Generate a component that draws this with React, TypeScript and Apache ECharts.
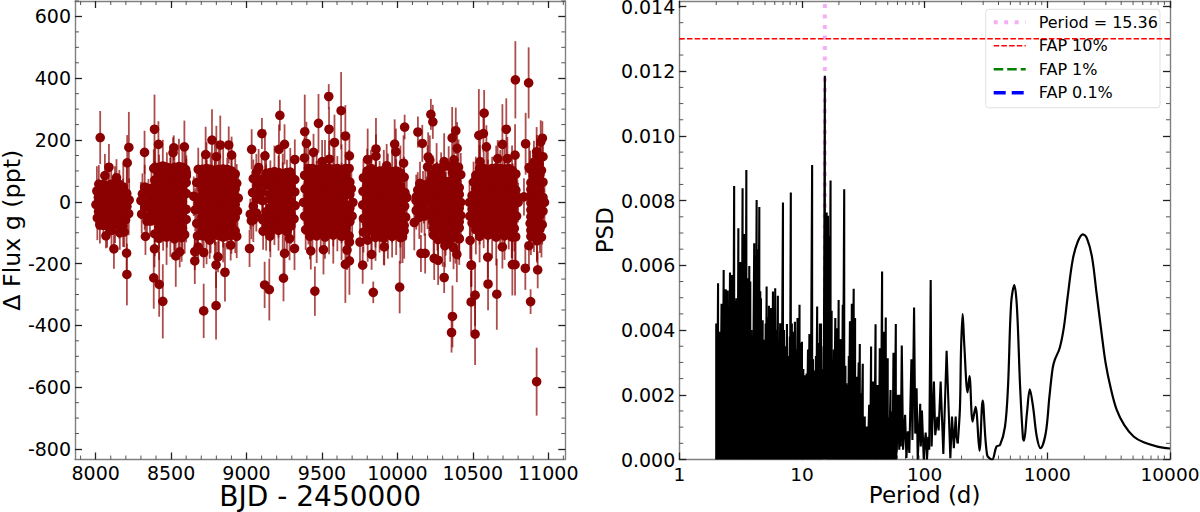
import React, { useEffect, useRef } from 'react';
import * as echarts from 'echarts';

const FONT = '"DejaVu Sans"';

// light curve, each point is [BJD - 2450000, delta flux, error], read per observing season
const season1 = [
  [8021,57,62],[8072,52,70],[8128,60,55],[8183,48,75],[8008,35,80],[8049,30,58],[8103,38,66],[8157,31,72],[8206,27,85],
  [8018,14,60],[8077,9,52],[8126,15,78],[8181,11,64],[8222,6,70],[8002,-9,68],[8046,-12,74],[8098,-7,56],[8153,-10,60],
  [8207,-15,62],[8019,-31,58],[8074,-35,66],[8133,-28,50],[8178,-33,80],[8219,-38,70],[8011,-52,72],[8051,-56,48],
  [8102,-50,58],[8157,-55,64],[8198,-58,54],[8028,-75,60],[8076,-78,70],[8129,-72,62],[8182,-80,66],
  [8030,208,86],[8220,176,115],[8209,126,90],[8088,112,75],[8061,85,70],[8138,78,60],[8068,-110,40],[8121,-152,65],
  [8205,-166,60],[8207,-235,100],[8189,-97,50],[8160,-100,55],[8105,-92,60],
];
const season2 = [
  [8395,112,70],[8445,116,85],[8497,108,60],[8552,114,90],[8596,105,75],[8420,92,60],[8472,88,72],[8522,95,66],[8575,90,80],[8601,84,55],
  [8392,70,62],[8447,66,50],[8495,73,70],[8550,68,58],[8600,62,64],[8325,48,72],[8370,44,60],[8420,50,55],[8470,46,66],[8524,42,78],[8575,50,58],
  [8310,26,66],[8392,22,70],[8445,28,52],[8497,24,60],[8552,20,74],[8600,27,56],[8300,4,60],[8350,0,74],[8420,7,62],[8470,2,50],[8522,5,68],[8575,-1,58],
  [8325,-18,72],[8392,-22,58],[8447,-15,64],[8495,-20,80],[8550,-16,52],[8600,-24,70],[8305,-40,62],[8360,-44,68],[8420,-38,56],[8470,-42,70],[8524,-37,60],[8575,-45,76],
  [8340,-62,60],[8392,-58,72],[8445,-65,55],[8497,-60,66],[8552,-63,50],[8600,-57,74],[8420,-84,68],[8472,-88,60],[8522,-80,78],[8575,-86,64],
  [8392,-104,72],[8447,-100,58],[8495,-108,70],[8550,-102,84],[8590,-106,62],[8420,-118,70],[8470,-114,90],[8522,-120,66],[8570,-116,78],
  [8324,160,70],[8390,235,112],[8416,186,75],[8518,175,40],[8513,159,50],[8588,178,85],[8385,108,62],[8601,94,56],
  [8330,-112,60],[8390,-152,60],[8557,-162,50],[8531,-175,100],[8385,-246,100],[8421,-267,105],[8445,-322,120],
];
const season3 = [
  [8680,105,70],[8735,108,85],[8790,102,96],[8845,106,74],[8900,100,68],[8707,84,60],[8762,88,72],[8817,80,90],[8872,85,58],[8925,90,66],
  [8670,62,56],[8735,66,70],[8790,60,80],[8845,58,64],[8900,65,52],[8935,60,62],[8707,40,72],[8762,36,58],[8817,44,66],[8872,38,70],[8925,42,56],
  [8650,18,64],[8735,14,50],[8790,20,76],[8845,16,60],[8900,22,58],[8945,12,70],[8680,-4,60],[8707,-8,66],[8762,0,54],[8817,-6,72],[8872,-2,62],[8925,-9,68],
  [8660,-26,70],[8735,-30,56],[8790,-22,60],[8845,-28,74],[8900,-24,54],[8940,-30,64],[8707,-48,62],[8762,-44,76],[8817,-52,58],[8872,-46,68],[8925,-50,60],
  [8670,-70,72],[8735,-66,54],[8790,-74,66],[8845,-68,80],[8900,-72,62],[8707,-92,60],[8762,-88,78],[8817,-96,70],[8872,-90,64],[8925,-94,72],
  [8675,-110,66],[8735,-112,90],[8790,-106,74],[8845,-114,82],[8900,-108,60],[8935,-112,70],
  [8729,153,90],[8771,200,100],[8826,184,95],[8882,184,60],[8800,146,100],[8901,151,60],
  [8657,-161,60],[8679,-146,50],[8716,-164,50],[8657,-191,75],[8811,-178,50],[8798,-204,75],[8857,-228,95],[8716,-353,88],[8798,-336,110],[8756,-124,60],[8895,-140,50],
];
const season4 = [
  [9065,95,60],[9130,92,72],[9185,98,84],[9240,90,66],[9290,96,78],[9045,75,62],[9100,72,68],[9158,78,56],[9212,70,80],[9268,76,60],[9320,72,72],
  [9070,52,56],[9130,55,66],[9185,48,60],[9240,54,74],[9295,50,58],[9040,30,70],[9158,26,64],[9212,33,54],[9268,28,66],[9320,32,60],
  [9065,8,62],[9105,4,58],[9185,10,70],[9240,6,52],[9295,2,64],[9045,-14,66],[9158,-18,60],[9212,-10,72],[9268,-16,56],[9322,-12,62],
  [9065,-36,60],[9130,-32,68],[9185,-40,54],[9240,-34,70],[9295,-38,58],[9045,-58,72],[9105,-54,56],[9158,-62,66],[9212,-56,60],[9268,-60,74],[9315,-55,62],
  [9130,-80,78],[9185,-76,64],[9240,-84,70],[9295,-78,58],[9110,-95,60],[9158,-98,82],[9212,-92,66],[9268,-96,74],
  [9034,170,65],[9102,221,50],[9221,280,50],[9252,186,65],[9215,170,80],[9122,149,85],[9320,137,65],[9080,111,60],
  [9025,-40,50],[9032,-61,60],[9020,-151,60],[9252,-167,70],[9245,-247,75],[9120,-269,75],[9151,-284,100],[9318,-151,70],[9155,-111,50],[9109,-59,50],[9285,-119,70],
];
const season5 = [
  [9410,108,80],[9465,104,66],[9520,110,90],[9575,106,72],[9630,102,84],[9680,108,60],[9385,86,62],[9437,90,70],[9492,82,58],[9547,88,76],[9602,84,64],[9657,90,72],
  [9410,64,58],[9465,60,72],[9520,66,60],[9575,62,54],[9630,58,68],[9685,64,56],[9388,42,66],[9437,38,60],[9492,46,70],[9547,40,56],[9602,44,62],[9657,36,74],[9695,42,60],
  [9410,20,54],[9465,24,66],[9520,16,60],[9575,22,72],[9630,18,58],[9685,24,64],[9378,-2,62],[9437,-6,56],[9492,2,68],[9547,-4,74],[9602,0,52],[9657,-8,60],[9705,-2,70],
  [9410,-24,64],[9465,-20,58],[9520,-28,70],[9575,-22,62],[9630,-26,56],[9685,-20,68],[9385,-46,60],[9437,-42,72],[9492,-50,54],[9547,-44,66],[9602,-48,60],[9657,-42,76],[9700,-46,58],
  [9410,-68,70],[9465,-64,62],[9520,-72,56],[9575,-66,78],[9630,-70,64],[9685,-64,60],[9392,-90,66],[9437,-86,74],[9492,-94,60],[9547,-88,82],[9602,-92,68],[9657,-86,72],
  [9420,-112,74],[9465,-110,88],[9520,-114,70],[9575,-108,92],[9630,-112,76],[9680,-110,84],
  [9386,227,120],[9397,189,70],[9444,160,60],[9384,142,65],[9477,254,95],[9545,341,40],[9547,235,70],[9627,295,125],[9583,192,90],[9655,213,100],[9682,149,70],[9549,138,60],[9501,130,70],
  [9426,-159,60],[9510,-155,80],[9453,-289,80],[9682,-130,60],[9666,-156,65],[9655,-202,125],[9682,-191,110],
];
const season6 = [
  [9800,100,72],[9855,96,84],[9910,102,66],[9965,98,78],[10020,94,88],[9775,78,60],[9828,82,70],[9882,74,58],[9937,80,76],[9992,76,62],[10045,80,66],
  [9800,56,58],[9855,52,70],[9910,58,62],[9965,54,54],[10020,50,68],[9772,34,64],[9828,30,56],[9882,38,72],[9937,32,60],[9992,36,66],[10050,30,58],
  [9800,12,60],[9855,16,54],[9910,8,68],[9965,14,72],[10020,10,56],[10062,14,64],[9770,-10,66],[9828,-14,60],[9882,-6,52],[9937,-12,70],[9992,-8,62],[10048,-14,58],
  [9800,-32,62],[9855,-28,70],[9910,-36,56],[9965,-30,64],[10020,-34,60],[9775,-54,68],[9828,-50,54],[9882,-58,72],[9937,-52,60],[9992,-56,66],[10055,-50,74],
  [9800,-76,60],[9855,-72,76],[9910,-80,64],[9965,-74,58],[10020,-78,70],[9775,-98,66],[9828,-94,80],[9882,-102,62],[9937,-96,88],[9992,-100,72],[10045,-94,90],
  [9855,-115,76],[9910,-118,86],[9965,-112,68],[10020,-116,84],
  [10048,242,40],[9858,171,100],[9858,148,70],[9982,187,80],[9803,137,100],[10041,125,90],[9990,162,75],[9929,117,70],[9825,108,60],
  [9752,-130,80],[9803,-124,70],[9829,-170,50],[9770,-205,60],[9913,-146,60],[10034,-113,85],[9840,-293,35],[10015,-276,85],
];
const season7 = [
  [10150,60,70],[10185,55,62],[10135,38,58],[10170,34,66],[10205,40,60],[10125,16,72],[10160,12,54],[10195,18,64],[10140,-6,60],[10175,-2,68],
  [10125,-28,62],[10160,-24,76],[10200,-30,58],[10145,-50,70],[10180,-46,64],
  [10215,135,80],[10310,130,92],[10375,136,84],[10200,113,70],[10260,110,80],[10340,116,64],[10405,112,90],[10235,90,60],[10290,88,72],[10365,94,58],[10420,88,70],
  [10222,68,66],[10262,70,60],[10320,66,72],[10390,72,56],[10250,46,62],[10290,44,70],[10350,50,58],[10410,46,66],[10235,24,60],[10280,26,56],[10320,22,74],[10380,28,62],
  [10215,2,66],[10265,6,52],[10295,0,70],[10350,4,60],[10420,-2,72],[10240,-20,62],[10320,-24,56],[10385,-18,70],[10210,-42,68],[10265,-38,60],[10295,-46,74],[10350,-40,54],[10420,-44,66],
  [10235,-64,60],[10320,-60,76],[10385,-66,62],[10265,-86,72],[10295,-82,64],[10350,-90,58],[10410,-84,78],[10240,-108,82],[10320,-104,70],[10385,-110,90],
  [10270,-122,76],[10300,-118,92],[10350,-124,70],[10410,-120,84],
  [10136,226,50],[10165,189,60],[10222,283,50],[10235,259,55],[10363,207,100],[10387,230,75],[10396,173,85],[10204,145,80],[10112,-67,90],[10123,5,60],
  [10156,-167,60],[10184,-167,65],[10244,-183,70],[10270,-189,80],[10315,-142,70],[10372,-148,70],[10394,-170,90],[10310,-245,50],[10409,-118,70],
  [10365,-371,100],[10359,-423,65],
];
const season8 = [
  [10545,108,76],[10600,104,88],[10655,110,72],[10710,106,94],[10760,102,80],[10520,86,60],[10572,90,72],[10628,82,64],[10682,88,80],[10738,84,70],[10785,90,62],
  [10505,64,66],[10545,60,58],[10600,66,70],[10655,62,56],[10710,58,72],[10765,64,60],[10520,42,62],[10572,38,70],[10628,46,54],[10682,40,66],[10738,44,60],[10785,38,72],
  [10495,20,64],[10545,24,56],[10600,16,68],[10655,22,60],[10710,18,74],[10765,24,54],[10795,16,62],[10478,-2,72],[10520,-6,60],[10572,2,66],[10628,-4,52],[10682,0,70],[10738,-8,58],[10800,-2,64],
  [10495,-24,60],[10545,-20,72],[10600,-28,56],[10655,-22,66],[10710,-26,60],[10765,-20,74],[10480,-46,68],[10520,-42,54],[10572,-50,62],[10628,-44,76],[10682,-48,58],[10738,-42,66],[10790,-46,60],
  [10495,-68,62],[10545,-64,74],[10600,-72,60],[10655,-66,56],[10710,-70,78],[10765,-64,66],[10520,-90,80],[10572,-86,64],[10628,-94,88],[10682,-88,70],[10738,-92,62],[10775,-86,74],
  [10545,-112,84],[10600,-108,72],[10655,-114,92],[10710,-110,78],[10760,-112,70],
  [10575,287,75],[10540,215,150],[10570,221,60],[10722,235,100],[10590,178,70],[10696,186,130],[10548,130,70],[10665,140,60],[10780,151,100],[10729,140,70],
  [10782,395,125],[10482,-125,60],[10489,-205,70],[10696,-146,70],[10758,-113,70],[10784,-113,75],[10762,-203,100],[10780,-203,100],
  [10491,-205,70],[10489,-324,100],[10515,-302,100],[10515,-428,100],[10601,-266,85],[10599,-179,70],[10659,-299,115],
];
const season9 = [
  [10925,150,66],[10950,146,58],[10905,128,70],[10940,124,62],[10880,106,60],[10925,110,76],[10955,102,54],[10900,84,66],[10945,88,58],[10885,62,72],[10925,58,60],[10965,64,56],
  [10905,40,62],[10945,36,70],[10880,18,58],[10925,22,66],[10965,14,60],[10900,-4,72],[10945,-8,54],[10975,-2,62],[10885,-26,60],[10925,-22,68],[10965,-30,56],[10905,-48,66],[10945,-44,60],
  [10880,-70,72],[10925,-66,58],[10960,-74,64],[10905,-92,70],[10945,-88,78],[10885,-112,60],[10925,-108,82],[10955,-114,66],
  [10870,385,115],[10850,188,100],[10961,206,55],[10950,194,70],[10923,162,80],[10965,146,65],[10873,111,70],[10839,16,60],
  [10848,-215,70],[10872,-142,65],[10925,-126,70],[10930,-220,60],[10883,-323,40],[10923,-582,110],
];

// points inside the solid part of each season, whose error bars cannot be seen: [flux, [BJD...]]
const inner1 = [[57,[8047,8100,8155]],[35,[8026,8076,8130,8181]],[12,[8047,8100,8153,8203]],[-10,[8023,8072,8126,8180]],[-31,[8047,8103,8155,8198]],[-54,[8030,8075,8128,8178]],[-76,[8052,8103,8155]]];
const inner2 = [[112,[8420,8471,8524,8574]],[92,[8445,8497,8550]],[70,[8420,8471,8522,8575]],[48,[8395,8445,8497,8550]],[26,[8350,8420,8471,8524,8576]],[4,[8392,8445,8497,8550]],[-18,[8360,8420,8471,8522,8575]],[-40,[8392,8445,8497,8550]],[-62,[8365,8420,8471,8524,8576]],[-84,[8445,8497,8550]],[-104,[8420,8471,8522,8570]]];
const inner3 = [[105,[8707,8762,8817,8872]],[84,[8735,8790,8845,8900]],[62,[8702,8762,8817,8872,8920]],[40,[8735,8790,8845,8900]],[18,[8700,8762,8817,8872,8922]],[-4,[8735,8790,8845,8900]],[-26,[8700,8762,8817,8872,8920]],[-48,[8735,8790,8845,8900]],[-70,[8702,8762,8817,8872]],[-92,[8735,8790,8845,8900]],[-110,[8707,8762,8817,8872]]];
const inner4 = [[95,[9158,9212,9268]],[75,[9130,9185,9240,9295]],[52,[9158,9212,9268]],[30,[9100,9185,9240,9295]],[8,[9158,9212,9268]],[-14,[9185,9240,9295]],[-36,[9158,9212,9268]],[-58,[9130,9185,9240,9295]],[-80,[9158,9212,9268]]];
const inner5 = [[108,[9437,9492,9547,9602,9657]],[86,[9410,9465,9520,9575,9630]],[64,[9437,9492,9547,9602,9657]],[42,[9410,9465,9520,9575,9630]],[20,[9437,9492,9547,9602,9657]],[-2,[9410,9465,9520,9575,9630]],[-24,[9437,9492,9547,9602,9657]],[-46,[9410,9465,9520,9575,9630]],[-68,[9437,9492,9547,9602,9657]],[-90,[9410,9465,9520,9575,9630]]];
const inner6 = [[100,[9828,9882,9937,9992]],[78,[9800,9855,9910,9965,10020]],[56,[9828,9882,9937,9992]],[34,[9800,9855,9910,9965,10020]],[12,[9828,9882,9937,9992]],[-10,[9800,9855,9910,9965,10020]],[-32,[9828,9882,9937,9992]],[-54,[9800,9855,9910,9965,10020]],[-76,[9828,9882,9937,9992,10045]],[-98,[9800,9855,9910,9965,10020]]];
const inner7 = [[113,[10300,10370]],[68,[10290,10355]],[46,[10320,10380]],[38,[10152,10188]],[24,[10300,10350,10410]],[16,[10142,10178]],[2,[10320,10385]],[-20,[10270,10295,10350,10410]],[-28,[10142,10180]],[-42,[10320,10385]],[-64,[10265,10295,10350,10410]],[-86,[10240,10320,10385]],[-108,[10280,10350]]];
const inner8 = [[108,[10572,10628,10682,10738]],[86,[10545,10600,10655,10710,10765]],[64,[10572,10628,10682,10738]],[42,[10545,10600,10655,10710,10765]],[20,[10520,10572,10628,10682,10738]],[-2,[10545,10600,10655,10710,10765]],[-24,[10520,10572,10628,10682,10738]],[-46,[10545,10600,10655,10710,10765]],[-68,[10520,10572,10628,10682,10738]],[-90,[10545,10600,10655,10710,10755]]];
const inner9 = [[128,[10925]],[106,[10903,10940]],[84,[10925]],[62,[10905,10945]],[40,[10885,10925]],[18,[10903,10945]],[-4,[10885,10925]],[-26,[10905,10945]],[-48,[10885,10925]],[-70,[10903,10943]],[-92,[10885,10925]]];

// periodogram: forest of unresolved peaks, each one falls back to zero
const forestPeriods = [
  2.00,2.03,2.07,2.11,2.15,2.21,2.25,2.30,2.34,2.39,2.48,2.54,2.59,2.69,2.74,2.80,2.86,2.92,2.98,3.03,3.09,3.15,3.21,3.28,3.34,3.41,3.46,3.52,3.58,3.65,3.72,3.79,3.87,3.96,
  4.08,4.17,4.27,4.37,4.49,4.57,4.63,4.78,4.87,4.96,5.06,5.15,5.28,5.38,5.48,5.58,5.69,5.80,5.93,6.05,6.18,6.36,6.48,6.64,6.80,7.00,7.13,7.32,7.54,7.74,7.96,8.11,8.27,8.42,8.58,8.76,8.96,
  9.20,9.37,9.55,9.78,10.0,10.25,10.5,10.7,10.9,11.2,11.5,11.75,12.1,12.3,12.7,13.0,13.3,13.7,14.0,14.3,14.7,15.0,15.36,15.6,15.9,16.28,16.6,17.1,17.45,17.8,18.2,18.7,19.2,19.6,19.9,
  20.4,20.7,21.1,21.5,22.1,22.6,23.0,23.7,24.1,24.6,25.0,25.5,26.4,27.1,28.0,29.0,29.6,30.3,31.3,
  32.5,33.2,33.8,34.4,35.3,36,36.6,37.4,38,38.9,39.8,40.5,41.3,42.3,43.1,43.9,45,45.8,46.4,47.3,48.2,49.1,50,51.3,52.7,53.3,54,54.8,55.7,56.8,58.2,
];
const forestPsd = [
  4.2,3.6,5.45,3.9,3.95,4.81,4.1,5.86,4.3,5.26,5.22,4.4,5.78,5.70,5.0,8.45,4.9,4.98,4.7,7.15,5.2,6.1,4.1,8.38,5.7,6.97,6.0,8.95,5.6,5.2,5.98,5.5,4.0,3.7,
  6.68,6.3,8.02,6.5,7.8,5.2,4.98,4.3,3.1,3.7,4.2,5.35,4.4,4.75,3.2,4.68,3.9,5.19,3.6,5.29,4.0,5.06,3.4,4.21,3.6,7.94,4.0,3.5,4.19,3.2,3.8,8.25,4.2,3.95,3.0,4.26,3.4,
  4.37,3.1,4.78,3.6,3.64,2.8,2.6,2.2,2.66,3.4,3.88,3.5,9.1,3.1,2.75,3.2,4.73,3.6,4.2,4.2,2.8,3.5,11.86,6.8,7.63,7.53,6.9,8.62,4.6,1.7,3.4,4.37,4.06,3.5,4.93,
  3.3,3.72,2.2,4.78,8.35,2.9,2.36,2.3,3.2,4.27,3.8,4.81,5.28,4.37,2.56,3.0,3.57,2.05,2.96,
  1.33,1.0,1.02,0.7,1.69,0.9,3.49,1.1,2.41,1.0,4.18,1.5,2.3,1.2,3.44,1.6,5.81,2.0,3.95,1.6,4.39,1.9,3.13,1.3,2.15,0.9,1.48,0.8,3.3,1.2,4.19,
];
// periodogram above about 58 d, peaks and troughs can be told apart
const midPeriods = [
  59.3,60.6,62.1,62.7,63.9,65.1,66.7,
  69.3,71,73,75,78,79.5,82,83.8,86,87.8,92,93,95,98.3,100,102,104.5,107,109,112,114,119,122,127,130,135,142,151,162,167,173,179,182,186,
];
const midPsd = [
  0.3,2.0,0.3,2.0,0.4,3.52,0.3,
  1.38,0.05,0.87,0.2,3.1,0.6,4.7,0.8,2.2,0,1.72,0.4,1.51,0,0.5,0.83,0,0.7,0.3,5.55,0.4,2.41,0.75,1.32,0.9,2.41,0.17,3.36,0.04,1.33,0.35,1.33,0.7,0.5,
];
// long period end, smooth
const tailPeriods = [
  186,194,198,204,210,224,232,246,260,280,297,323,355,385,412,452,478,507,538,565,600,633,645,682,720,765,820,880,970,1040,1105,1150,1260,1360,1465,1610,1770,1950,2100,2310,2520,2770,2990,3290,3680,4230,5050,6100,7900,10000,
];
const tailPsd = [
  0.5,1.6,3.4,4.5,3.6,2.07,2.58,1.17,1.63,0.27,1.82,0.14,0,0.4,0.45,1.02,2.25,4.83,5.39,4.72,2.25,0.66,0.58,1.43,2.17,1.63,0.71,0.35,0.81,1.94,2.82,3.08,3.44,4.05,5.03,6.17,6.73,6.96,6.84,6.27,5.14,3.9,2.97,2.2,1.53,1.07,0.71,0.53,0.4,0.34,
];

const bestPeriod = 15.36;
const fap10 = 0.013;

const leftXMajor = [8000, 8500, 9000, 9500, 10000, 10500, 11000];
const leftXMinor = [7900, 8100, 8200, 8300, 8400, 8600, 8700, 8800, 8900, 9100, 9200, 9300, 9400, 9600, 9700, 9800, 9900, 10100, 10200, 10300, 10400, 10600, 10700, 10800, 10900, 11100];
const leftYMajor = [-800, -600, -400, -200, 0, 200, 400, 600];
const leftYMinor = [-750, -700, -650, -550, -500, -450, -350, -300, -250, -150, -100, -50, 50, 100, 150, 250, 300, 350, 450, 500, 550, 650];
const rightXMinor = [2, 3, 4, 5, 6, 7, 8, 9, 20, 30, 40, 50, 60, 70, 80, 90, 200, 300, 400, 500, 600, 700, 800, 900, 2000, 3000, 4000, 5000, 6000, 7000, 8000, 9000];
const rightYMajor = [0, 0.002, 0.004, 0.006, 0.008, 0.01, 0.012, 0.014];
const rightYMinor = [0.0005, 0.001, 0.0015, 0.0025, 0.003, 0.0035, 0.0045, 0.005, 0.0055, 0.0065, 0.007, 0.0075, 0.0085, 0.009, 0.0095, 0.0105, 0.011, 0.0115, 0.0125, 0.013, 0.0135];

const L_X = [7863, 11113];
const L_Y = [-834, 650];
const R_X = [1, 10000];
const R_Y = [0, 0.01417];

const FRAME = '#808080';
const TICK = '#222';
const MINOR = '#555';

function axisBase(extra: any) {
  return {
    scale: true,
    axisLine: { show: true, onZero: false, lineStyle: { color: FRAME, width: 1.4 } },
    axisTick: { show: true, inside: true, length: 7, lineStyle: { color: TICK, width: 1.3 } },
    axisLabel: { show: false },
    splitLine: { show: false },
    minorTick: { show: false },
    nameMoveOverlap: false,
    ...extra,
  };
}

function valueAxis(gridIndex: number, position: string, ext: number[], major: number[], labelled: boolean, formatter: any, extra: any = {}) {
  const base: any = axisBase({});
  return {
    ...base,
    type: 'value',
    gridIndex,
    position,
    min: ext[0],
    max: ext[1],
    axisTick: { ...base.axisTick, customValues: major },
    axisLabel: { show: labelled, customValues: major, formatter, color: '#000', fontFamily: FONT, fontSize: 19, margin: 4 },
    ...extra,
  };
}

function logAxis(gridIndex: number, position: string, labelled: boolean, extra: any = {}) {
  const base: any = axisBase({});
  return {
    ...base,
    type: 'log',
    logBase: 10,
    gridIndex,
    position,
    min: R_X[0],
    max: R_X[1],
    axisLabel: { show: labelled, formatter: (v: number) => String(v), color: '#000', fontFamily: FONT, fontSize: 18.5, margin: 5 },
    ...extra,
  };
}

// minor ticks along both opposite sides of a panel
function minorX(values: number[], axisIndex: number, yExt: number[]) {
  return {
    type: 'custom',
    xAxisIndex: axisIndex,
    yAxisIndex: axisIndex,
    silent: true,
    encode: { x: 0, y: 1 },
    data: values.map((v) => [v, yExt[0]]),
    renderItem: (_: any, api: any) => {
      const b = api.coord([api.value(0), yExt[0]]);
      const t = api.coord([api.value(0), yExt[1]]);
      const style = { stroke: MINOR, lineWidth: 1 };
      return {
        type: 'group',
        children: [
          { type: 'line', shape: { x1: b[0], y1: b[1], x2: b[0], y2: b[1] - 4 }, style },
          { type: 'line', shape: { x1: t[0], y1: t[1], x2: t[0], y2: t[1] + 4 }, style },
        ],
      };
    },
  };
}

function minorY(values: number[], axisIndex: number, xExt: number[]) {
  return {
    type: 'custom',
    xAxisIndex: axisIndex,
    yAxisIndex: axisIndex,
    silent: true,
    encode: { x: 0, y: 1 },
    data: values.map((v) => [xExt[0], v]),
    renderItem: (_: any, api: any) => {
      const l = api.coord([xExt[0], api.value(1)]);
      const r = api.coord([xExt[1], api.value(1)]);
      const style = { stroke: MINOR, lineWidth: 1 };
      return {
        type: 'group',
        children: [
          { type: 'line', shape: { x1: l[0], y1: l[1], x2: l[0] + 4, y2: l[1] }, style },
          { type: 'line', shape: { x1: r[0], y1: r[1], x2: r[0] - 4, y2: r[1] }, style },
        ],
      };
    },
  };
}

function App() {
  const chartRef = useRef<HTMLDivElement>(null);

  useEffect(() => {
    document.body.style.margin = '0';
    const chart = echarts.init(chartRef.current, null, { renderer: 'svg' });

    const points = [...season1, ...season2, ...season3, ...season4, ...season5, ...season6, ...season7, ...season8, ...season9];
    const inner = [...inner1, ...inner2, ...inner3, ...inner4, ...inner5, ...inner6, ...inner7, ...inner8, ...inner9]
      .flatMap(([y, xs]: any) => xs.map((x: number) => [x, y]));
    const forest = forestPeriods.flatMap((p, i) => [[p, forestPsd[i] / 1000], [p, 0]]);
    const mid = midPeriods.map((p, i) => [p, midPsd[i] / 1000]);
    const tail = tailPeriods.map((p, i) => [p, tailPsd[i] / 1000]);

    const options = {
      animation: false,
      backgroundColor: '#fff',
      grid: [
        { left: 75, top: 1, width: 490.3, height: 458.5, outerBoundsMode: 'none' },
        { left: 679.3, top: 1, width: 490.7, height: 458.5, outerBoundsMode: 'none' },
      ],
      xAxis: [
        valueAxis(0, 'bottom', L_X, leftXMajor, true, (v: number) => String(v), {
          name: 'BJD - 2450000',
          nameLocation: 'middle',
          nameGap: 24.5,
          nameTextStyle: { color: '#000', fontFamily: FONT, fontSize: 28, lineHeight: 24 },
        }),
        valueAxis(0, 'top', L_X, leftXMajor, false, null),
        logAxis(1, 'bottom', true, {
          name: 'Period (d)',
          nameLocation: 'middle',
          nameGap: 24,
          nameTextStyle: { color: '#000', fontFamily: FONT, fontSize: 23 },
        }),
        logAxis(1, 'top', false),
      ],
      yAxis: [
        valueAxis(0, 'left', L_Y, leftYMajor, true, (v: number) => String(v), {
          name: 'Δ Flux g (ppt)',
          nameLocation: 'middle',
          nameGap: 51,
          nameTextStyle: { color: '#000', fontFamily: FONT, fontSize: 23.7 },
        }),
        valueAxis(0, 'right', L_Y, leftYMajor, false, null),
        valueAxis(1, 'left', R_Y, rightYMajor, true, (v: number) => v.toFixed(3), {
          name: 'PSD',
          nameLocation: 'middle',
          nameGap: 63,
          nameTextStyle: { color: '#000', fontFamily: FONT, fontSize: 23 },
        }),
        valueAxis(1, 'right', R_Y, rightYMajor, false, null),
      ],
      legend: {
        orient: 'vertical',
        left: 985.7,
        top: 9.3,
        padding: [5, 2, 7, 6],
        itemWidth: 32,
        itemHeight: 16,
        itemGap: 7.5,
        backgroundColor: 'rgba(255,255,255,0.8)',
        borderColor: '#e0e0e0',
        borderWidth: 1,
        borderRadius: 3,
        itemStyle: { opacity: 0 },
        lineStyle: { width: 'inherit' },
        textStyle: { color: '#000', fontFamily: FONT, fontSize: 16, padding: [0, 0, 0, 8] },
        data: ['Period = 15.36', 'FAP 10%', 'FAP 1%', 'FAP 0.1%'],
      },
      series: [
        minorX(leftXMinor, 0, L_Y),
        minorY(leftYMinor, 0, L_X),
        minorX(rightXMinor, 2, R_Y),
        minorY(rightYMinor, 2, R_X),
        {
          type: 'custom',
          xAxisIndex: 0,
          yAxisIndex: 0,
          z: 2,
          silent: true,
          encode: { x: 0, y: 1 },
          data: points,
          renderItem: (_: any, api: any) => {
            const x = api.value(0);
            const y = api.value(1);
            const e = api.value(2);
            const a = api.coord([x, y - e]);
            const b = api.coord([x, y + e]);
            return {
              type: 'line',
              shape: { x1: a[0], y1: a[1], x2: b[0], y2: b[1] },
              style: { stroke: 'rgba(139,0,0,0.7)', lineWidth: 1.8 },
            };
          },
        },
        {
          type: 'scatter',
          xAxisIndex: 0,
          yAxisIndex: 0,
          z: 3,
          symbolSize: 9.6,
          itemStyle: { color: '#8b0000', opacity: 1 },
          data: [...points.map((p) => [p[0], p[1]]), ...inner],
        },
        {
          name: 'Period = 15.36',
          type: 'line',
          xAxisIndex: 2,
          yAxisIndex: 2,
          z: 2,
          symbol: 'none',
          itemStyle: { color: '#f5aef5' },
          lineStyle: { color: '#f5aef5', width: 4, type: [4, 6.5] },
          data: [[bestPeriod, R_Y[0]], [bestPeriod, R_Y[1]]],
        },
        {
          name: 'FAP 10%',
          type: 'line',
          xAxisIndex: 2,
          yAxisIndex: 2,
          z: 4,
          symbol: 'none',
          itemStyle: { color: '#ff0000' },
          lineStyle: { color: '#ff0000', width: 1.5, type: [5.5, 2.2] },
          data: [[R_X[0], fap10], [R_X[1], fap10]],
        },
        {
          // above the top of the plot
          name: 'FAP 1%',
          type: 'line',
          xAxisIndex: 2,
          yAxisIndex: 2,
          symbol: 'none',
          itemStyle: { color: '#008000' },
          lineStyle: { color: '#008000', width: 2.5, type: [9.5, 4] },
          data: [],
        },
        {
          // above the top of the plot
          name: 'FAP 0.1%',
          type: 'line',
          xAxisIndex: 2,
          yAxisIndex: 2,
          symbol: 'none',
          itemStyle: { color: '#0000ff' },
          lineStyle: { color: '#0000ff', width: 3.5, type: [12, 6] },
          data: [],
        },
        {
          type: 'line',
          xAxisIndex: 2,
          yAxisIndex: 2,
          z: 3,
          symbol: 'none',
          silent: true,
          lineStyle: { color: '#000', width: 2.1, join: 'bevel' },
          data: [...forest, ...mid],
        },
        {
          type: 'line',
          xAxisIndex: 2,
          yAxisIndex: 2,
          z: 3,
          symbol: 'none',
          silent: true,
          smooth: 0.35,
          lineStyle: { color: '#000', width: 2.2 },
          data: tail,
        },
      ],
    };

    chart.setOption(options as any);

    return () => {
      chart.dispose();
    };
  }, []);

  return <div ref={chartRef} style={{ width: 1200, height: 512 }}></div>;
}

export default App;
